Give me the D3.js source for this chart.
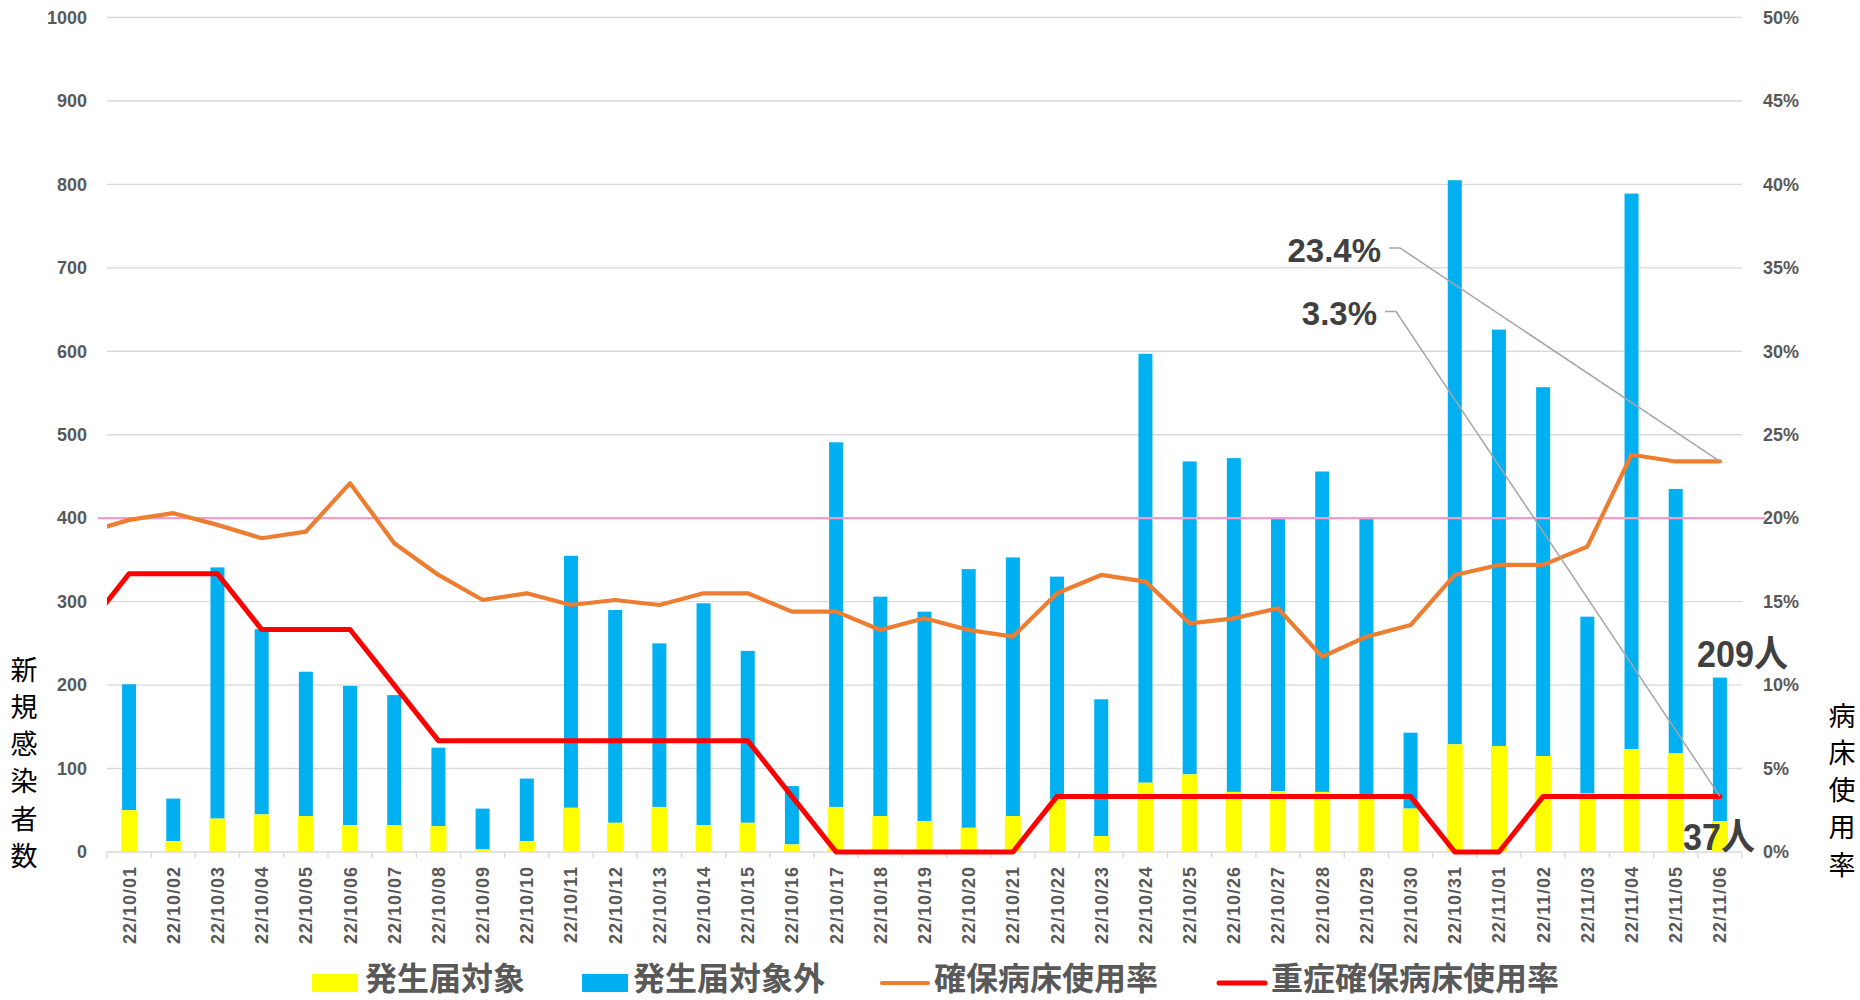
<!DOCTYPE html>
<html lang="ja">
<head>
  <meta charset="UTF-8">
  <title>新規感染者数と病床使用率</title>
  <style>
    body { margin: 0; background: #fff; }
    svg { display: block; font-family: "Liberation Sans", Arial, sans-serif; }
    .tick text { fill: #595959; font-weight: bold; font-size: 18px; }
    .jp { font-family: "Noto Sans CJK JP", sans-serif; }
  </style>
</head>
<body>
  <svg width="1860" height="1000"></svg>
  <script src="https://d3js.org/d3.v7.min.js"></script>
  <script>
    // data
    var dates = [
      "22/10/01", "22/10/02", "22/10/03", "22/10/04", "22/10/05", "22/10/06", "22/10/07",
      "22/10/08", "22/10/09", "22/10/10", "22/10/11", "22/10/12", "22/10/13", "22/10/14",
      "22/10/15", "22/10/16", "22/10/17", "22/10/18", "22/10/19", "22/10/20", "22/10/21",
      "22/10/22", "22/10/23", "22/10/24", "22/10/25", "22/10/26", "22/10/27", "22/10/28",
      "22/10/29", "22/10/30", "22/10/31", "22/11/01", "22/11/02", "22/11/03", "22/11/04",
      "22/11/05", "22/11/06"
    ];
    // 発生届対象
    var targetCases = [
      50, 13, 40, 45, 43, 32, 32, 31, 3, 13, 53, 35, 54, 32, 35, 9, 54, 43, 37, 29, 43,
      63, 19, 83, 93, 72, 73, 72, 69, 52, 129, 127, 115, 70, 123, 118, 37
    ];
    // 発生届対象外
    var otherCases = [
      151, 51, 301, 222, 173, 167, 156, 94, 49, 75, 302, 255, 196, 266, 206, 70, 437, 263, 251, 310, 310,
      267, 164, 514, 375, 400, 326, 384, 330, 91, 676, 499, 442, 212, 666, 317, 172
    ];
    // 確保病床使用率 (%)
    var bedRate = [
      19.9, 20.3, 19.6, 18.8, 19.2, 22.1, 18.5, 16.6, 15.1, 15.5, 14.8, 15.1, 14.8, 15.5,
      15.5, 14.4, 14.4, 13.3, 14.0, 13.3, 12.9, 15.5, 16.6, 16.2, 13.7, 14.0, 14.6, 11.7,
      12.9, 13.6, 16.6, 17.2, 17.2, 18.3, 23.8, 23.4, 23.4
    ];
    // 重症確保病床使用率 (%)
    var severeRate = [
      16.67, 16.67, 16.67, 13.33, 13.33, 13.33, 10.0, 6.67, 6.67, 6.67, 6.67, 6.67, 6.67, 6.67,
      6.67, 3.33, 0, 0, 0, 0, 0, 3.33, 3.33, 3.33, 3.33, 3.33, 3.33, 3.33,
      3.33, 3.33, 0, 0, 3.33, 3.33, 3.33, 3.33, 3.33
    ];
    // the day before the first category (22/09/30), only visible as the line stub at the left edge
    var prevBedRate = 19.1;
    var prevSevereRate = 13.33;
    var leftTicks = [0, 100, 200, 300, 400, 500, 600, 700, 800, 900, 1000];
    var rightTicks = [0, 5, 10, 15, 20, 25, 30, 35, 40, 45, 50];
    var thresholdRate = 20;

    var plotLeft = 107, plotRight = 1742, plotTop = 17.5, plotBottom = 852;
    var svg = d3.select("svg");

    var x = d3.scaleBand().domain(dates).range([plotLeft, plotRight]);
    var bw = x.bandwidth();
    var xi = d3.scaleLinear()
               .domain([0, dates.length - 1])
               .range([x(dates[0]) + bw / 2, x(dates[dates.length - 1]) + bw / 2]);
    var yL = d3.scaleLinear().domain([0, 1000]).range([plotBottom, plotTop]);
    var yR = d3.scaleLinear().domain([0, 50]).range([plotBottom, plotTop]);

    // gridlines
    svg.append("g")
      .selectAll("line")
      .data(leftTicks)
      .enter()
      .append("line")
        .attr("x1", plotLeft)
        .attr("x2", plotRight)
        .attr("y1", d => yL(d))
        .attr("y2", d => yL(d))
        .attr("stroke", "#d9d9d9")
        .attr("stroke-width", 1.4);

    // category tick marks between bands
    svg.append("g")
      .selectAll("line")
      .data(dates.map((d, i) => i).concat([dates.length]))
      .enter()
      .append("line")
        .attr("x1", i => plotLeft + i * bw)
        .attr("x2", i => plotLeft + i * bw)
        .attr("y1", plotBottom)
        .attr("y2", plotBottom + 6)
        .attr("stroke", "#d9d9d9")
        .attr("stroke-width", 1.4);

    // y axes
    svg.append("g")
        .attr("transform", "translate(" + (plotLeft - 20) + ",0)")
        .call(d3.axisLeft(yL).tickValues(leftTicks).tickSize(0).tickPadding(0).tickFormat(d3.format("d")))
        .call(g => g.select(".domain").remove());

    svg.append("g")
        .attr("transform", "translate(" + (plotRight + 21) + ",0)")
        .call(d3.axisRight(yR).tickValues(rightTicks).tickSize(0).tickPadding(0)
                .tickFormat(d => d + "%"))
        .call(g => g.select(".domain").remove());

    // x labels
    svg.append("g")
      .selectAll("text")
      .data(dates)
      .enter()
      .append("text")
        .attr("transform", d => "translate(" + (x(d) + bw / 2) + "," + (plotBottom + 14) + ") rotate(-90)")
        .attr("text-anchor", "end")
        .attr("dy", "0.36em")
        .attr("fill", "#595959")
        .attr("font-weight", "bold")
        .attr("font-size", 18)
        .attr("letter-spacing", 1)
        .text(d => d);

    // bars
    var bars = svg.append("g");
    bars.selectAll(".other")
      .data(dates)
      .enter()
      .append("rect")
        .attr("x", d => x(d) + bw / 2 - 7)
        .attr("width", 14)
        .attr("y", (d, i) => yL(targetCases[i] + otherCases[i]))
        .attr("height", (d, i) => yL(targetCases[i]) - yL(targetCases[i] + otherCases[i]))
        .attr("fill", "#00b0f0");
    bars.selectAll(".target")
      .data(dates)
      .enter()
      .append("rect")
        .attr("x", d => x(d) + bw / 2 - 8)
        .attr("width", 16)
        .attr("y", (d, i) => yL(targetCases[i]))
        .attr("height", (d, i) => plotBottom - yL(targetCases[i]))
        .attr("fill", "#ffff00");

    // 20% line
    svg.append("line")
        .attr("x1", plotLeft - 9)
        .attr("x2", plotRight + 23)
        .attr("y1", yR(thresholdRate))
        .attr("y2", yR(thresholdRate))
        .attr("stroke", "#ff99cc")
        .attr("stroke-width", 2.2);

    svg.append("clipPath")
        .attr("id", "plot")
      .append("rect")
        .attr("x", plotLeft)
        .attr("y", 0)
        .attr("width", plotRight - plotLeft)
        .attr("height", 1000);

    var line = d3.line()
                 .x(d => xi(d.i))
                 .y(d => yR(d.v));

    var bedPts = [{ i: -1, v: prevBedRate }].concat(bedRate.map((v, i) => ({ i: i, v: v })));
    var severePts = [{ i: -1, v: prevSevereRate }].concat(severeRate.map((v, i) => ({ i: i, v: v })));

    svg.append("path")
        .attr("clip-path", "url(#plot)")
        .attr("d", line(bedPts))
        .attr("fill", "none")
        .attr("stroke", "#ed7d31")
        .attr("stroke-width", 4.2)
        .attr("stroke-linejoin", "round")
        .attr("stroke-linecap", "round");

    svg.append("path")
        .attr("clip-path", "url(#plot)")
        .attr("d", line(severePts))
        .attr("fill", "none")
        .attr("stroke", "#ff0000")
        .attr("stroke-width", 5)
        .attr("stroke-linejoin", "round")
        .attr("stroke-linecap", "round");

    // callouts for the latest rates
    var last = dates.length - 1;
    var callouts = [
      { text: d3.format(".1f")(bedRate[last]) + "%", tx: 1381, ty: 262, lx: 1389, ly: 248, v: bedRate[last] },
      { text: d3.format(".1f")(severeRate[last]) + "%", tx: 1377, ty: 325, lx: 1385, ly: 311.5, v: severeRate[last] }
    ];
    callouts.forEach(function(c) {
      svg.append("polyline")
          .attr("points", [[c.lx, c.ly], [c.lx + 11, c.ly], [xi(last), yR(c.v)]].join(" "))
          .attr("fill", "none")
          .attr("stroke", "#a6a6a6")
          .attr("stroke-width", 1.5);
      svg.append("text")
          .attr("x", c.tx)
          .attr("y", c.ty)
          .attr("text-anchor", "end")
          .attr("font-weight", "bold")
          .attr("font-size", 33)
          .attr("fill", "#404040")
          .text(c.text);
    });

    // counts for the latest day (condensed like the original label font)
    var counts = [
      { text: (targetCases[last] + otherCases[last]) + "人", x: 1697, y: 667, w: 91 },
      { text: targetCases[last] + "人", x: 1683, y: 850, w: 72 }
    ];
    counts.forEach(function(c) {
      svg.append("text")
          .attr("x", c.x)
          .attr("y", c.y)
          .attr("font-family", '"Liberation Sans", "Noto Sans CJK JP", sans-serif')
          .attr("font-weight", "bold")
          .attr("font-size", 37)
          .attr("textLength", c.w)
          .attr("lengthAdjust", "spacingAndGlyphs")
          .attr("fill", "#404040")
          .text(c.text);
    });

    // axis titles, one character per row
    function stackedTitle(str, cx, cy) {
      svg.append("g")
        .selectAll("text")
        .data(Array.from(str))
        .enter()
        .append("text")
          .attr("class", "jp")
          .attr("x", cx)
          .attr("y", (d, i) => cy + i * 37.3)
          .attr("text-anchor", "middle")
          .attr("dominant-baseline", "central")
          .attr("font-size", 27)
          .attr("fill", "#000")
          .text(d => d);
    }
    stackedTitle("新規感染者数", 24, 668);
    stackedTitle("病床使用率", 1842, 714);

    // legend
    var legend = [
      { kind: "rect", color: "#ffff00", label: "発生届対象", sx: 312, tx: 365 },
      { kind: "rect", color: "#00b0f0", label: "発生届対象外", sx: 582, tx: 633 },
      { kind: "line", color: "#ed7d31", label: "確保病床使用率", sx: 882, tx: 934, w: 4.2 },
      { kind: "line", color: "#ff0000", label: "重症確保病床使用率", sx: 1219, tx: 1271, w: 5 }
    ];
    var lg = svg.append("g");
    legend.forEach(function(d) {
      if (d.kind === "rect") {
        lg.append("rect")
            .attr("x", d.sx)
            .attr("y", 974)
            .attr("width", 46)
            .attr("height", 18)
            .attr("fill", d.color);
      } else {
        lg.append("line")
            .attr("x1", d.sx)
            .attr("x2", d.sx + 46)
            .attr("y1", 983)
            .attr("y2", 983)
            .attr("stroke", d.color)
            .attr("stroke-width", d.w)
            .attr("stroke-linecap", "round");
      }
      lg.append("text")
          .attr("class", "jp")
          .attr("x", d.tx)
          .attr("y", 990)
          .attr("font-size", 32)
          .attr("font-weight", "bold")
          .attr("fill", "#595959")
          .text(d.label);
    });
  </script>
</body>
</html>
